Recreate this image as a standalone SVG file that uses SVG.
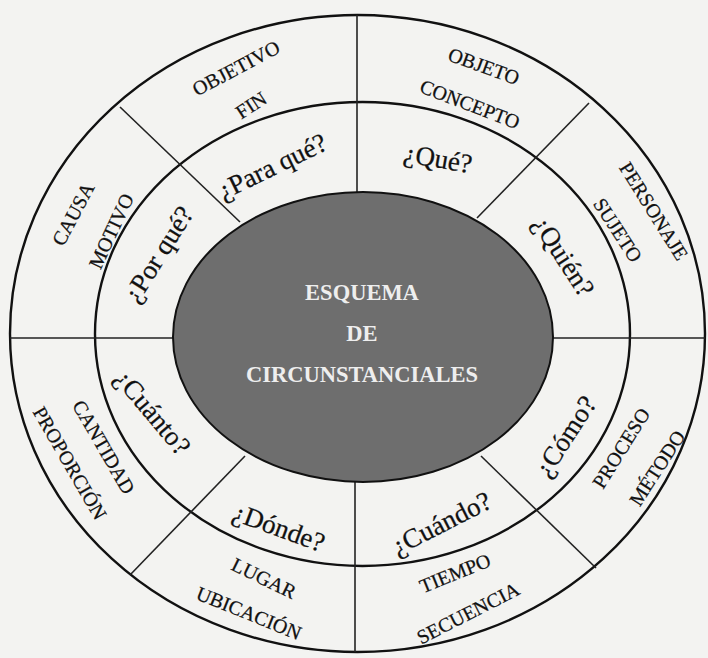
<svg xmlns="http://www.w3.org/2000/svg" width="708" height="658" viewBox="0 0 708 658">
  <style>
    .ring { fill: none; stroke: #111; stroke-width: 2.4; }
    .div { stroke: #222; stroke-width: 1.6; fill: none; }
    .o { font-family: "Liberation Serif", "Times New Roman", serif; font-size: 20px; fill: #111; stroke: #111; stroke-width: 0.25; text-anchor: middle; }
    .q { font-family: "Liberation Serif", "Times New Roman", serif; font-size: 27px; fill: #111; stroke: #111; stroke-width: 0.25; text-anchor: middle; }
    .c { font-family: "Liberation Serif", "Times New Roman", serif; font-size: 22.5px; font-weight: bold; fill: #eeeeee; text-anchor: middle; }
  </style>
  <rect width="708" height="658" fill="#f3f3f1"/>
  <g id="anillos">
    <ellipse class="ring" cx="357.5" cy="333.5" rx="347.5" ry="318.5" fill="#f6f6f4"/>
    <ellipse class="ring" cx="362.5" cy="334" rx="267.5" ry="232"/>
  </g>
  <g id="conectores">
    <line class="div" x1="357" y1="15" x2="357" y2="192"/>
    <line class="div" x1="355" y1="482" x2="355" y2="652"/>
    <line class="div" x1="10" y1="338" x2="173" y2="338"/>
    <line class="div" x1="553" y1="338" x2="705" y2="338"/>
    <line class="div" x1="120" y1="107" x2="240" y2="222"/>
    <line class="div" x1="589" y1="103" x2="477" y2="218"/>
    <line class="div" x1="130" y1="575" x2="245" y2="456"/>
    <line class="div" x1="596" y1="568" x2="481" y2="456"/>
  </g>
  <g id="centro">
    <ellipse cx="363" cy="337" rx="190" ry="145" fill="#6e6e6e" stroke="#111" stroke-width="2"/>
    <text class="c" x="362" y="300">ESQUEMA</text>
    <text class="c" x="362" y="341">DE</text>
    <text class="c" x="362" y="382">CIRCUNSTANCIALES</text>
  </g>
  <g id="para-que">
    <text class="o" transform="translate(236,68) rotate(-28)" dy="0.35em">OBJETIVO</text>
    <text class="o" transform="translate(251,105) rotate(-33)" dy="0.35em">FIN</text>
    <text class="q" transform="translate(272,166) rotate(-26)" dy="0.35em">¿Para qué?</text>
  </g>
  <g id="que">
    <text class="o" transform="translate(484,66) rotate(20)" dy="0.35em">OBJETO</text>
    <text class="o" transform="translate(470,104) rotate(21)" dy="0.35em">CONCEPTO</text>
    <text class="q" transform="translate(438,158) rotate(10)" dy="0.35em">¿Qué?</text>
  </g>
  <g id="quien">
    <text class="o" transform="translate(654,211) rotate(58)" dy="0.35em">PERSONAJE</text>
    <text class="o" transform="translate(618,230) rotate(57)" dy="0.35em">SUJETO</text>
    <text class="q" transform="translate(564,256) rotate(57)" dy="0.35em">¿Quién?</text>
  </g>
  <g id="por-que">
    <text class="o" transform="translate(73,214) rotate(-62)" dy="0.35em">CAUSA</text>
    <text class="o" transform="translate(111,231) rotate(-65)" dy="0.35em">MOTIVO</text>
    <text class="q" transform="translate(158,254) rotate(-58)" dy="0.35em">¿Por qué?</text>
  </g>
  <g id="cuanto">
    <text class="q" transform="translate(153,412) rotate(50)" dy="0.35em">¿Cuánto?</text>
    <text class="o" transform="translate(104,447) rotate(60)" dy="0.35em">CANTIDAD</text>
    <text class="o" transform="translate(70,463) rotate(60)" dy="0.35em">PROPORCIÓN</text>
  </g>
  <g id="donde">
    <text class="q" transform="translate(279,527) rotate(20)" dy="0.35em">¿Dónde?</text>
    <text class="o" transform="translate(264,578) rotate(26)" dy="0.35em">LUGAR</text>
    <text class="o" transform="translate(249,613) rotate(22)" dy="0.35em">UBICACIÓN</text>
  </g>
  <g id="cuando">
    <text class="q" transform="translate(441,523) rotate(-27)" dy="0.35em">¿Cuándo?</text>
    <text class="o" transform="translate(455,573) rotate(-22)" dy="0.35em">TIEMPO</text>
    <text class="o" transform="translate(468,613) rotate(-27)" dy="0.35em">SECUENCIA</text>
  </g>
  <g id="como">
    <text class="q" transform="translate(565,436) rotate(-57)" dy="0.35em">¿Cómo?</text>
    <text class="o" transform="translate(621,448) rotate(-58)" dy="0.35em">PROCESO</text>
    <text class="o" transform="translate(657,468) rotate(-57)" dy="0.35em">MÉTODO</text>
  </g>
</svg>
